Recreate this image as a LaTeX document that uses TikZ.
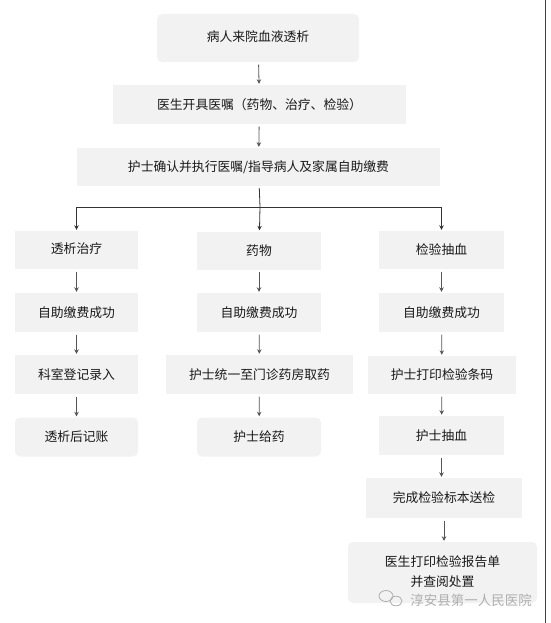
\documentclass[tikz,border=0pt]{standalone}
\usepackage{fontspec}
\setmainfont{Noto Sans CJK SC}
\usetikzlibrary{arrows.meta}
\definecolor{boxfill}{RGB}{242,242,242}
\definecolor{txt}{RGB}{25,25,25}
\definecolor{arr}{RGB}{85,85,85}
\definecolor{wm}{RGB}{175,175,175}
\begin{document}
\begin{tikzpicture}[x=1pt,y=-1pt,
  box/.style={fill=boxfill,draw=none,inner sep=0pt,align=center,text=txt,
    font=\fontsize{12.8}{21}\selectfont},
  rbox/.style={box,rounded corners=5pt},
  flow/.style={draw=arr,line width=0.8pt,-{Stealth[length=4.5pt,width=4.5pt]},shorten <=2.5pt,shorten >=1pt},
  plain/.style={draw=black!80,line width=0.8pt}]
\useasboundingbox (0,0) rectangle (550,623);
\fill[white] (0,0) rectangle (550,623);
% right border
\draw[black!75,line width=0.9pt] (545,0) -- (545,623);
% top chain
\node[rbox,minimum width=202pt,minimum height=48pt] (b1) at (258,38) {\raisebox{4pt}{病人来院血液透析}};
\node[box,minimum width=293pt,minimum height=39pt] (b2) at (259.5,104.5) {医生开具医嘱（药物、治疗、检验）};
\node[box,minimum width=363pt,minimum height=38pt] (b3) at (258.5,167) {\raisebox{2pt}{护士确认并执行医嘱/指导病人及家属自助缴费}};
\coordinate (j) at (260,207);
% left column
\node[box,minimum width=123pt,minimum height=38pt] (l1) at (76.5,250) {\raisebox{3pt}{透析治疗}};
\node[box,minimum width=123pt,minimum height=39pt] (l2) at (76.5,312.5) {自助缴费成功};
\node[box,minimum width=123pt,minimum height=39pt] (l3) at (76.5,374.5) {科室登记录入};
\node[rbox,minimum width=123pt,minimum height=39pt] (l4) at (76.5,437) {透析后记账};
% middle column
\node[box,minimum width=124pt,minimum height=38pt] (m1) at (259,250.5) {药物};
\node[box,minimum width=124pt,minimum height=39pt] (m2) at (259,312.5) {自助缴费成功};
\node[box,minimum width=187pt,minimum height=39pt] (m3) at (259.5,374.5) {护士统一至门诊药房取药};
\node[rbox,minimum width=124pt,minimum height=39pt] (m4) at (259,437) {护士给药};
% right column
\node[box,minimum width=125pt,minimum height=38pt] (r1) at (441.5,250) {检验抽血};
\node[box,minimum width=125pt,minimum height=39pt] (r2) at (441.5,312.5) {自助缴费成功};
\node[box,minimum width=148pt,minimum height=38pt] (r3) at (442,375) {护士打印检验条码};
\node[box,minimum width=125pt,minimum height=39pt] (r4) at (441.5,435.5) {护士抽血};
\node[box,minimum width=156pt,minimum height=40pt] (r5) at (444,498) {完成检验标本送检};
\node[rbox,minimum width=189pt,minimum height=61pt] (r6) at (442.5,572.5) {\raisebox{4pt}{\begin{tabular}{@{}c@{}}医生打印检验报告单\\[-1pt]并查阅处置\end{tabular}}};
% connectors
\draw[flow] (b1) -- (b2);
\draw[flow] (b2) -- (b3);
\draw[plain,shorten <=2pt] (b3) -- (j);
\draw[plain,-{Stealth[length=4.5pt,width=4.5pt]},shorten >=1pt] (j) -| (l1);
\draw[plain,-{Stealth[length=4.5pt,width=4.5pt]},shorten >=1pt] (j) -- (m1);
\draw[plain,-{Stealth[length=4.5pt,width=4.5pt]},shorten >=1pt] (j) -| (r1);
\draw[flow] (l1) -- (l2);
\draw[flow] (l2) -- (l3);
\draw[flow] (l3) -- (l4);
\draw[flow] (m1) -- (m2);
\draw[flow] (m2) -- (m3);
\draw[flow] (m3) -- (m4);
\draw[flow] (r1) -- (r2);
\draw[flow] (r2) -- (r3);
\draw[flow] (r3) -- (r4);
\draw[flow] (r4.south) -- (r4.south |- r5.north);
\draw[flow] (r5.south) -- (r5.south |- r6.north);
% watermark
\draw[wm,line width=0.8pt] (386,596) ellipse (7pt and 5.5pt);
\draw[wm,line width=0.8pt] (396,601) ellipse (6pt and 4.8pt);
\node[text=wm,font=\fontsize{13.5}{15}\selectfont,inner sep=0pt] (wmt) at (471,600) {淳安县第一人民医院};
\end{tikzpicture}
\end{document}
